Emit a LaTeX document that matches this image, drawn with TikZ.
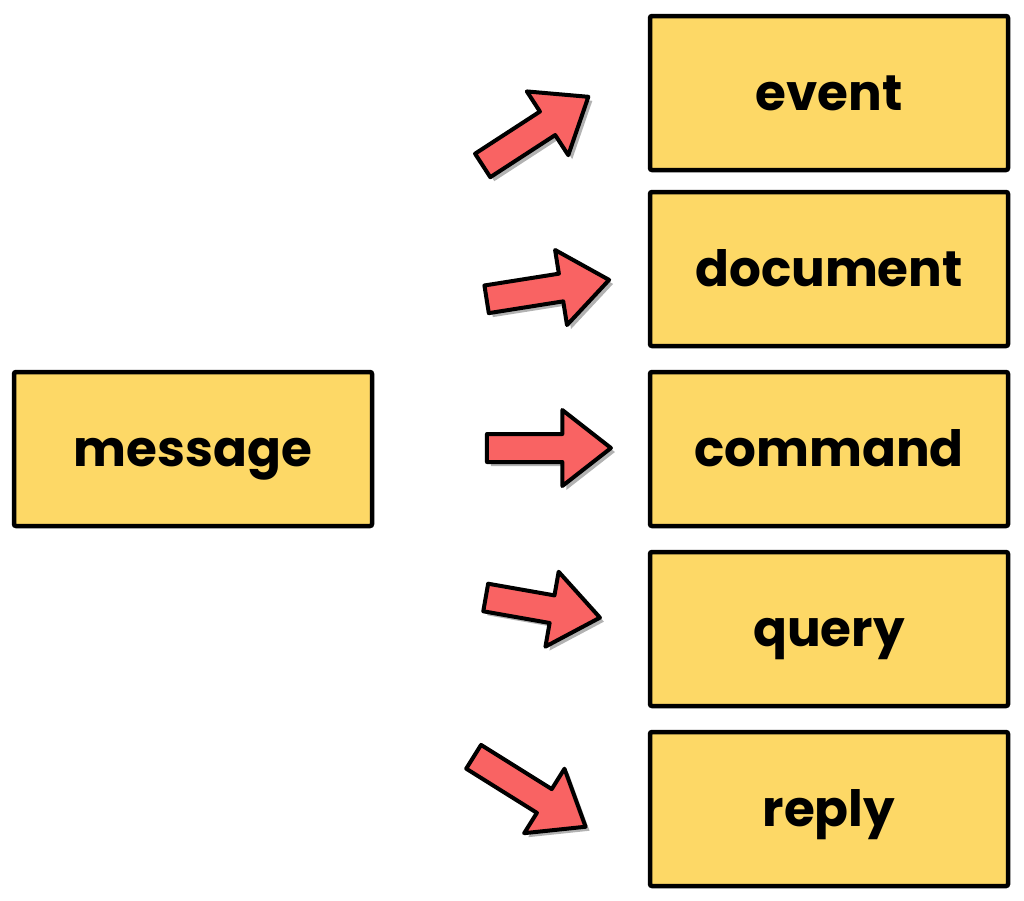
\documentclass[tikz,border=0pt]{standalone}
\usepackage{fontspec}
\setmainfont{Poppins}
\usetikzlibrary{shapes.arrows}
\usetikzlibrary{shadows}
\definecolor{boxfill}{HTML}{FDD866}
\definecolor{arrowred}{HTML}{F96363}
\tikzset{>=latex}
\tikzset{
  kind/.style={draw=black,fill=boxfill,line width=4.5pt,rounded corners=2pt,
    minimum width=358pt,minimum height=154pt,inner sep=0pt,
    text height=34pt,text depth=0pt,
    font=\fontsize{50}{60}\selectfont\bfseries},
  bigarrow/.style={single arrow,draw=black,fill=arrowred,line width=4pt,
    inner sep=12pt,single arrow head extend=24pt,single arrow tip angle=76,
    line join=round,
    drop shadow={shadow xshift=4pt,shadow yshift=-4pt,opacity=0.3,fill=black}},
}

\begin{document}
\begin{tikzpicture}[x=1pt,y=-1pt]
    \useasboundingbox[fill=white] (0,0) rectangle (1024,900);
    \node[kind] (message) at (193,449) {message};
    \foreach \name/\yy in {event/93,document/269,command/449,query/629,reply/809} {
      \node[kind] (\name) at (829,\yy) {\name};
    }
    \node[bigarrow,minimum height=126pt,rotate=33] (toevent) at (528,136) {};
    \node[bigarrow,minimum height=124pt,rotate=9] (todocument) at (539,291) {};
    \node[bigarrow,minimum height=124pt] (tocommand) at (540,448) {};
    \node[bigarrow,minimum height=116pt,rotate=-10] (toquery) at (534,606) {};
    \node[bigarrow,minimum height=132pt,rotate=-32] (toreply) at (522,787) {};
\end{tikzpicture}
\end{document}
